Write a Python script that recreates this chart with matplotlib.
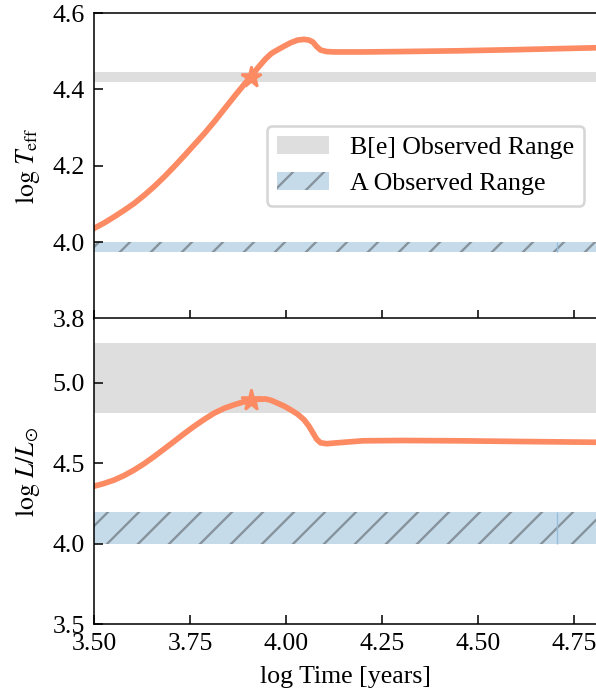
#evolution track vs observed ranges, two stacked panels
import matplotlib.pyplot as plt
import numpy as np

plt.rcParams["font.family"] = ["Liberation Serif", "DejaVu Serif"]
plt.rcParams["mathtext.fontset"] = "stix"
plt.rcParams["font.size"] = 10
plt.rcParams["hatch.linewidth"] = 0.9

log_time = [3.500, 3.526, 3.552, 3.578, 3.604, 3.630, 3.656, 3.682, 3.708, 3.734, 3.760,
            3.787, 3.813, 3.839, 3.865, 3.887, 3.908, 3.928, 3.947, 3.962, 3.977, 3.995,
            4.012, 4.030, 4.047, 4.060, 4.070, 4.080, 4.090, 4.106, 4.125, 4.20, 4.30,
            4.45, 4.60, 4.81]
log_teff = [4.036, 4.050, 4.066, 4.083, 4.101, 4.122, 4.145, 4.170, 4.197, 4.225, 4.254,
            4.284, 4.315, 4.348, 4.381, 4.408, 4.433, 4.458, 4.480, 4.494, 4.503, 4.513,
            4.522, 4.529, 4.531, 4.529, 4.524, 4.512, 4.503, 4.499, 4.498, 4.498, 4.499,
            4.501, 4.504, 4.509]
log_lum = [4.358, 4.375, 4.396, 4.424, 4.458, 4.497, 4.541, 4.588, 4.635, 4.683, 4.729,
           4.773, 4.812, 4.842, 4.864, 4.880, 4.891, 4.898, 4.900, 4.891, 4.875, 4.856,
           4.833, 4.806, 4.771, 4.730, 4.690, 4.650, 4.628, 4.622, 4.626, 4.640, 4.642,
           4.640, 4.636, 4.631]

#marked point (star)
star_time = 3.908
star_teff = 4.433
star_lum = 4.893

#observed ranges
be_teff = (4.42, 4.445)
be_lum = (4.81, 5.247)
a_teff = (3.975, 4.0)
a_lum = (4.0, 4.2)
a_split = 4.705  #band is made of two pieces, seam visible here

x_range = (3.5, 4.81)

track_color = "#fc8a62"
gray_band = "#dedede"
blue_band = "#c6dbe9"
hatch_col = "#87939c"

dpi = 186
fig = plt.figure(figsize=(596 / dpi, 700 / dpi), dpi=dpi)
ax1 = fig.add_axes([94 / 596, 1 - 318.5 / 700, 503 / 596, 305.5 / 700])
ax2 = fig.add_axes([94 / 596, 1 - 624.3 / 700, 503 / 596, 305.8 / 700], sharex=ax1)

def draw_panel(ax, y, be, a, star_y):
    xs = np.array(x_range)
    ax.fill_between(xs, be[0], be[1], color=gray_band, lw=0, label="B[e] Observed Range")
    ax.fill_between([x_range[0], a_split], a[0], a[1], facecolor=blue_band,
                    edgecolor=hatch_col, hatch="//", lw=0, label="A Observed Range")
    ax.fill_between([a_split, x_range[1]], a[0], a[1], facecolor=blue_band,
                    edgecolor=hatch_col, hatch="//", lw=0)
    ax.vlines(a_split, a[0], a[1], color="#93bddc", lw=0.5)
    ax.plot(log_time, y, color=track_color, lw=2.2)
    ax.plot(star_time, star_y, marker="*", color=track_color, ms=8.5, ls="none")
    ax.tick_params(direction="in", length=3.5, width=0.6, labelsize=10)
    for s in ax.spines.values():
        s.set_linewidth(0.6)

draw_panel(ax1, log_teff, be_teff, a_teff, star_teff)
draw_panel(ax2, log_lum, be_lum, a_lum, star_lum)

ax1.set_xlim(*x_range)
ax1.set_ylim(3.8, 4.6)
ax1.set_yticks([3.8, 4.0, 4.2, 4.4, 4.6])
ax1.set_yticklabels(["3.8", "4.0", "4.2", "4.4", "4.6"])
ax1.tick_params(labelbottom=False)
ax1.set_ylabel(r"$\log\,T_{\rm eff}$", fontsize=10)
ax1.legend(loc="center right", fontsize=10)

ax2.set_ylim(3.5, 5.4)
ax2.set_yticks([3.5, 4.0, 4.5, 5.0])
ax2.set_yticklabels(["3.5", "4.0", "4.5", "5.0"])
ax2.set_xticks([3.5, 3.75, 4.0, 4.25, 4.5, 4.75])
ax2.set_xticklabels(["3.50", "3.75", "4.00", "4.25", "4.50", "4.75"])
ax2.set_ylabel(r"$\log\,L/L_{\odot}$", fontsize=10)
ax2.set_xlabel("log Time [years]", fontsize=10)

fig.savefig("out.png", dpi=dpi)
